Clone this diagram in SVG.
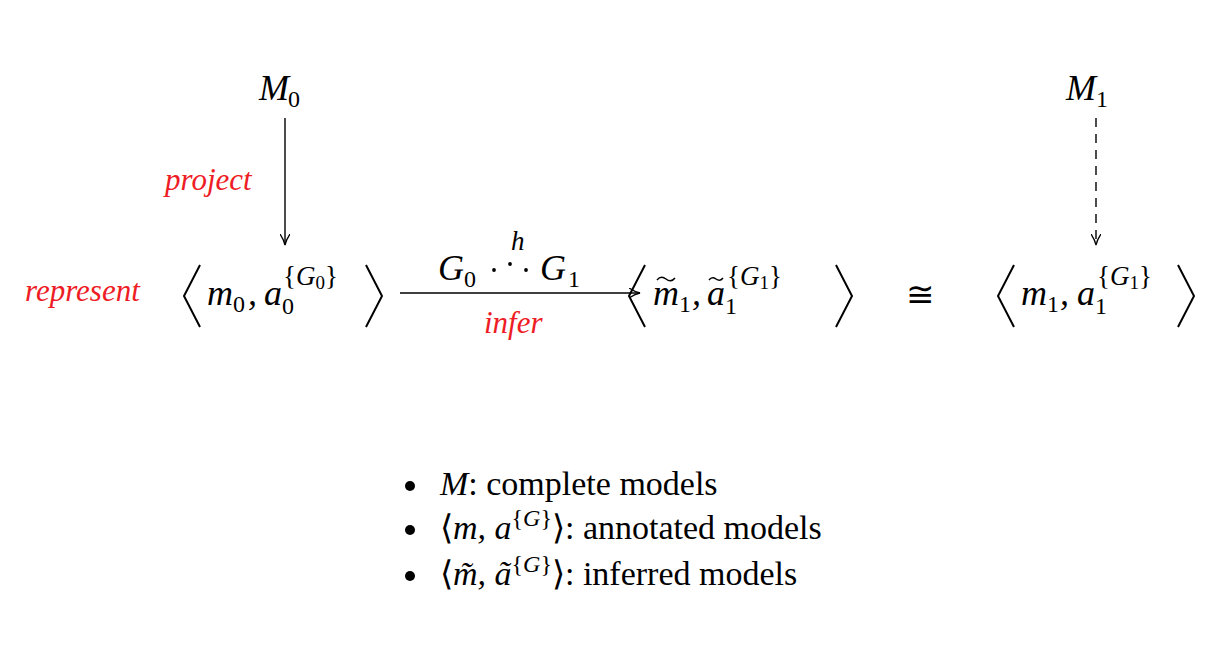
<svg xmlns="http://www.w3.org/2000/svg" width="1217" height="665" viewBox="0 0 1217 665">
<style>
.m{font-family:"Liberation Serif",serif;font-style:italic;font-size:36px;fill:#000}
.s{font-family:"Liberation Serif",serif;font-style:normal;font-size:24px;fill:#000}
.sp{font-family:"Liberation Serif",serif;font-style:normal;font-size:27px;fill:#000}
.ss{font-family:"Liberation Serif",serif;font-style:normal;font-size:19px;fill:#000}
.si{font-family:"Liberation Serif",serif;font-style:italic;font-size:27px;fill:#000}
.r{font-family:"Liberation Serif",serif;font-style:italic;font-size:31px;fill:#ee1c25}
.t{font-family:"Liberation Serif",serif;font-size:34px;fill:#000}
.b{fill:none;stroke:#000;stroke-width:2}
.ln{stroke:#000;stroke-width:1.4;fill:none}
.tl{stroke:#000;stroke-width:1.5;fill:none}
</style>
<defs>
<marker id="ah" markerWidth="12" markerHeight="10" refX="11" refY="5" orient="auto" markerUnits="userSpaceOnUse">
<path d="M0,0 Q6,4 11,5 Q6,6 0,10" fill="none" stroke="#000" stroke-width="1.3"/>
</marker>
</defs>
<g id="connectors">
<line class="ln" x1="285" y1="118" x2="285" y2="245" marker-end="url(#ah)"/>
<line class="ln" x1="1096" y1="118" x2="1096" y2="245" stroke-dasharray="9,7" marker-end="url(#ah)"/>
<line class="ln" x1="400" y1="293" x2="640" y2="293" marker-end="url(#ah)"/>
<text class="m" x="438" y="280">G</text><text class="s" x="464" y="287">0</text>
<circle cx="494" cy="270" r="1.9"/><circle cx="510" cy="264" r="1.9"/><circle cx="526" cy="270" r="1.9"/>
<text class="si" x="511" y="250">h</text>
<text class="m" x="540" y="280">G</text><text class="s" x="568" y="287">1</text>
<text class="r" x="484" y="333">infer</text>
<text class="r" x="165" y="190">project</text>
</g>
<g id="M0"><text class="m" x="259" y="100">M</text><text class="s" x="288" y="107">0</text></g>
<g id="M1"><text class="m" x="1066" y="100">M</text><text class="s" x="1096" y="107">1</text></g>
<g id="annotated0">
<text class="r" x="25" y="301">represent</text>
<polyline class="b" points="200,265 184,296 200,327"/>
<text class="m" x="207" y="305">m</text><text class="s" x="233" y="312">0</text><text class="m" x="248" y="305">,</text>
<text class="m" x="264" y="305">a</text>
<text class="s" x="282" y="314">0</text>
<text class="sp" x="283" y="285">{<tspan class="si">G</tspan><tspan class="ss" dy="4">0</tspan><tspan dy="-4">}</tspan></text>
<polyline class="b" points="366,265 382,296 366,327"/>
</g>
<g id="inferred1">
<polyline class="b" points="645,265 629,296 645,327"/>
<text class="m" x="653" y="305">m</text><text class="s" x="679" y="312">1</text><text class="m" x="692" y="305">,</text>
<path class="tl" d="M657,280 q4,-5 9,-1 t9,-1"/>
<text class="m" x="707" y="305">a</text>
<path class="tl" d="M709,280 q3,-4 7,-1 t7,-1"/>
<text class="s" x="725" y="314">1</text>
<text class="sp" x="727" y="285">{<tspan class="si">G</tspan><tspan class="ss" dy="4">1</tspan><tspan dy="-4">}</tspan></text>
<polyline class="b" points="836,265 852,296 836,327"/>
</g>
<g id="cong"><text class="t" x="906" y="306">≅</text></g>
<g id="annotated1">
<polyline class="b" points="1014,265 998,296 1014,327"/>
<text class="m" x="1021" y="305">m</text><text class="s" x="1047" y="312">1</text><text class="m" x="1060" y="305">,</text>
<text class="m" x="1077" y="305">a</text>
<text class="s" x="1095" y="314">1</text>
<text class="sp" x="1097" y="285">{<tspan class="si">G</tspan><tspan class="ss" dy="4">1</tspan><tspan dy="-4">}</tspan></text>
<polyline class="b" points="1178,265 1194,296 1178,327"/>
</g>
<g id="legend">
<circle cx="410" cy="486" r="5"/><circle cx="410" cy="530" r="5"/><circle cx="410" cy="576" r="5"/>
<text class="t" x="440" y="495"><tspan font-style="italic">M</tspan>: complete models</text>
<text class="t" x="440" y="539">⟨<tspan font-style="italic">m, a</tspan><tspan font-size="24" dy="-13">{<tspan font-style="italic">G</tspan>}</tspan><tspan dy="13">⟩: annotated models</tspan></text>
<text class="t" x="440" y="585">⟨<tspan font-style="italic">m̃, ã</tspan><tspan font-size="24" dy="-13">{<tspan font-style="italic">G</tspan>}</tspan><tspan dy="13">⟩: inferred models</tspan></text>
</g>
</svg>
